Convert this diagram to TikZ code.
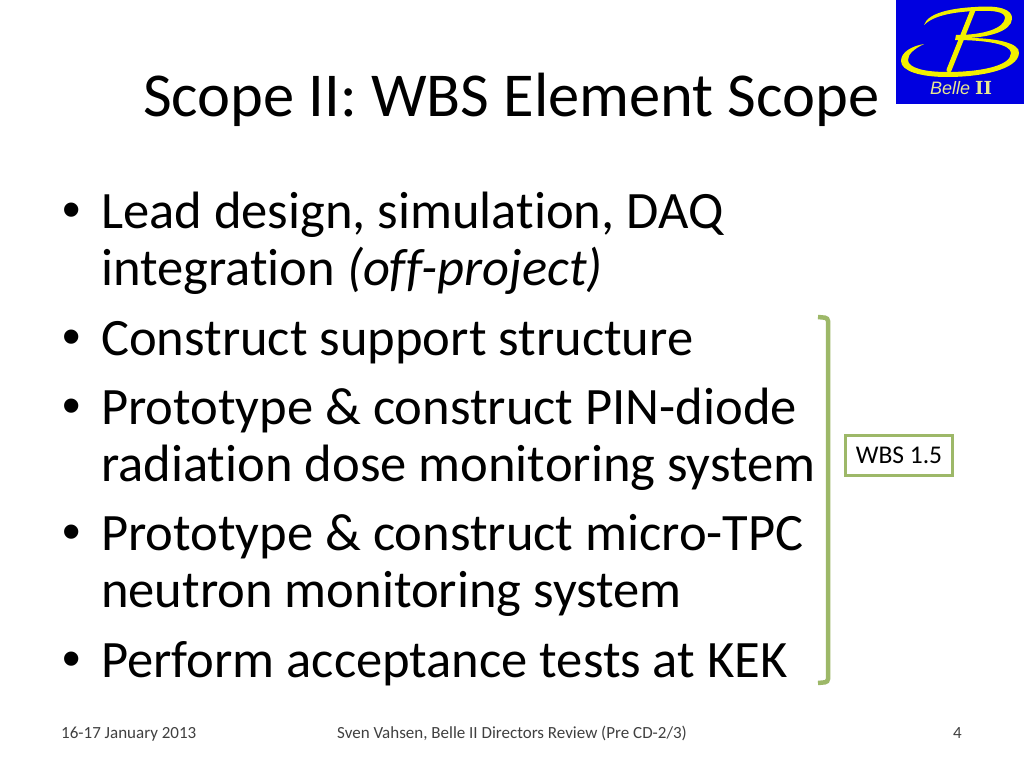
\documentclass[tikz,border=0pt]{standalone}
\usepackage{fontspec}
\setmainfont{Carlito}[Ligatures=NoCommon]
\newfontfamily\bulletfont{Liberation Sans}
\newfontfamily\logofont{Liberation Sans}
\newfontfamily\romanfont{DejaVu Serif}
\definecolor{brk}{HTML}{9DB868}
\definecolor{foot}{HTML}{404040}
\definecolor{logoblue}{HTML}{0000E0}
\definecolor{logoyel}{HTML}{F2F000}
\definecolor{logotxt}{HTML}{E8E890}
\begin{document}
\begin{tikzpicture}[x=1pt,y=-1pt,
 body/.style={anchor=base west,inner sep=0pt,font=\fontsize{52.55}{52.55}\selectfont},
 dot/.style={anchor=base west,inner sep=0pt,font=\bulletfont\fontsize{52.4}{52.4}\selectfont},
 foot/.style={inner sep=0pt,font=\fontsize{17}{17}\selectfont,text=foot},
 logostroke/.style={draw=logoyel,line cap=round,line join=round}]
\useasboundingbox (0,0) rectangle (1024,768);
\fill[white] (0,0) rectangle (1024,768);
\fill[logoblue] (896,0) rectangle (1024,104);
\fill[logoyel] (924,25) .. controls (928,12) and (955,8) .. (975,7) .. controls (998,5) and (1013,9) .. (1012,19) .. controls (1011,31) and (990,37) .. (968,38) .. controls (996,38) and (1020,43) .. (1019,53) .. controls (1018,70) and (980,77) .. (947,77) .. controls (920,77) and (901,71) .. (901,61) .. controls (901,52) and (912,46) .. (924,44) .. controls (914,49) and (908,54) .. (908,60) .. controls (908,68) and (925,72) .. (947,72) .. controls (980,72) and (1011,66) .. (1011,53) .. controls (1011,44) and (985,40) .. (955,40) -- (956,35) .. controls (985,35) and (1004,28) .. (1005,18) .. controls (1005,12) and (995,10) .. (975,11) .. controls (955,12) and (934,15) .. cycle;
\draw[logostroke,line width=5pt] (973,10) -- (949,70);
\node[anchor=center,inner sep=0pt,text=logotxt,font=\logofont\fontsize{18}{18}\selectfont] (logo) at (961,88) {\textit{Belle} {\romanfont\bfseries II}};
\node[anchor=base west,inner sep=0pt,font=\fontsize{62.5}{62.5}\selectfont] (title) at (143,116) {Scope II: WBS Element Scope};
\node[dot] (b1) at (62,227) {•};
\node[body] (t1) at (101,228) {Lead design, simulation, DAQ};
\node[body] (t1b) at (101,285) {integration \textit{(off-project)}};
\node[dot] (b2) at (62,354) {•};
\node[body] (t2) at (101,355) {Construct support structure};
\node[dot] (b3) at (62,423) {•};
\node[body] (t3) at (101,424) {Prototype \& construct PIN-diode};
\node[body] (t3b) at (101,481) {radiation dose monitoring system};
\node[dot] (b4) at (62,549) {•};
\node[body] (t4) at (101,550) {Prototype \& construct micro-TPC};
\node[body] (t4b) at (101,607) {neutron monitoring system};
\node[dot] (b5) at (62,676) {•};
\node[body] (t5) at (101,677) {Perform acceptance tests at KEK};
\draw[brk,line width=4.5pt,rounded corners=3pt] (818,317) -- (828,318) -- (828,682) -- (818,683);
\node[draw=brk,line width=3pt,fill=white,minimum width=106.5pt,minimum height=39.5pt,inner sep=0pt,font=\fontsize{25.5}{25.5}\selectfont] (wbs) at (899,455.5) {WBS 1.5};
\node[foot,anchor=base west] (f1) at (61,738) {16-17 January 2013};
\node[foot,anchor=base] (f2) at (512,738) {Sven Vahsen, Belle II Directors Review (Pre CD-2/3)};
\node[foot,anchor=base east] (f3) at (962,738) {4};
\end{tikzpicture}
\end{document}
